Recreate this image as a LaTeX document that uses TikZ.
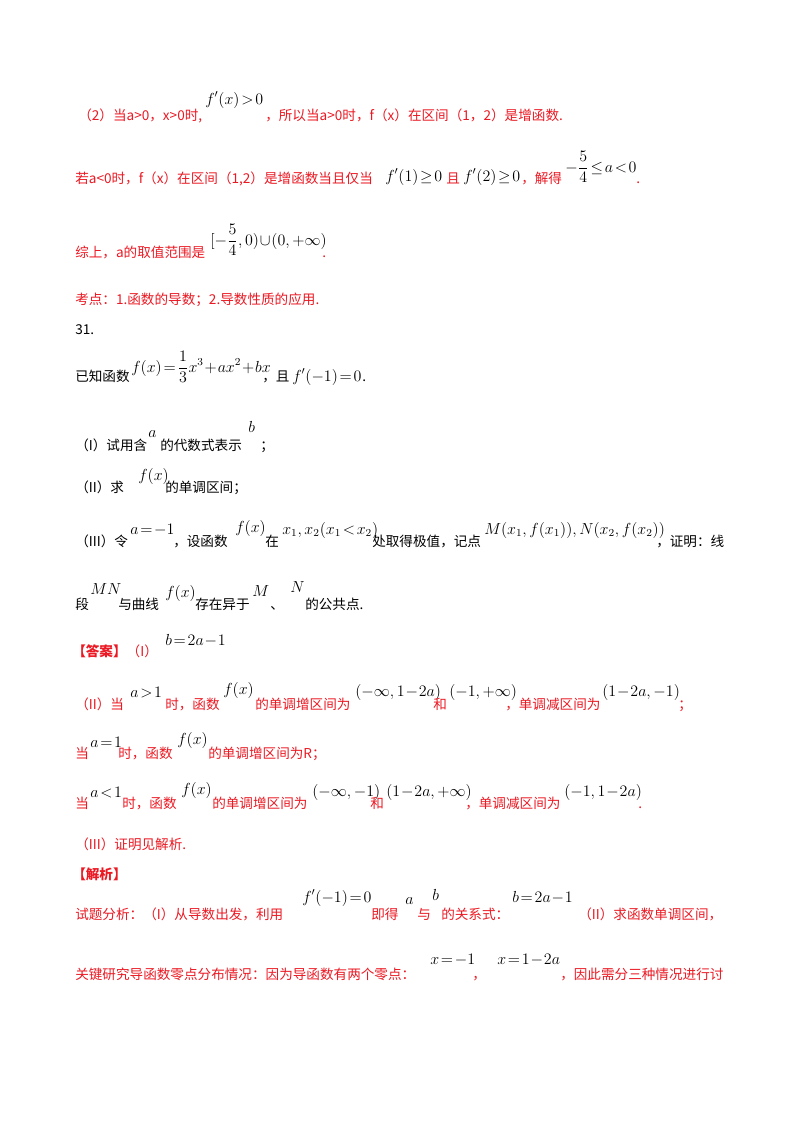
\documentclass[tikz,border=0pt]{standalone}
\usepackage{fontspec}
\setmainfont{Liberation Serif}
\newfontfamily\cjk{Noto Sans CJK SC}
\definecolor{rd}{RGB}{235,25,35}
\newcommand{\T}[5]{\node[txt,text=#4] (#1) at (#2,#3) {\cjk #5};}
\newcommand{\M}[5]{\node[txt,text=#4] (#1) at (#2,#3) {\fontsize{11.5pt}{13pt}\selectfont\thickmuskip=2mu\medmuskip=1mu$\displaystyle #5$};}
\begin{document}
\begin{tikzpicture}[x=0.75pt,y=-0.75pt,txt/.style={anchor=base west,inner sep=0pt,font=\fontsize{10.2pt}{12pt}\selectfont}]
\useasboundingbox[fill=white] (0,0) rectangle (800,1132);
% line 1
\T{a1}{78}{120}{rd}{（2）当a>0，x>0时,}
\M{a2}{205}{104}{black}{f'(x)>0}
\T{a3}{265}{120}{rd}{，所以当a>0时，f（x）在区间（1，2）是增函数.}
% line 2
\T{b1}{75}{183}{rd}{若a<0时，f（x）在区间（1,2）是增函数当且仅当}
\M{b2}{385}{181}{black}{f'(1)\ge0}
\T{b3}{446}{183}{rd}{且}
\M{b4}{463}{181}{black}{f'(2)\ge0}
\T{b5}{521}{183}{rd}{，解得}
\M{b6}{565}{172}{black}{-\frac54\le a<0}
\T{b7}{636}{183}{rd}{.}
% line 3
\T{c1}{75}{257}{rd}{综上，a的取值范围是}
\M{c2}{210}{245}{black}{[-\frac54,0)\cup(0,+\infty)}
\T{c3}{322}{257}{rd}{.}
\T{d1}{75}{304}{rd}{考点：1.函数的导数；2.导数性质的应用.}
\T{e1}{75}{334}{black}{31.}
% problem
\T{f1}{75}{381}{black}{已知函数}
\M{f2}{131}{372}{black}{f(x)=\frac13x^3+ax^2+bx}
\T{f3}{262}{381}{black}{，且}
\M{f4}{292}{381}{black}{f'(-1)=0}
\T{f5}{362}{381}{black}{.}
\T{g1}{75}{450}{black}{（I）试用含}
\M{g2}{148}{437}{black}{a}
\T{g3}{160}{450}{black}{的代数式表示}
\M{g4}{248}{432}{black}{b}
\T{g5}{260}{450}{black}{；}
\T{h1}{75}{492}{black}{（II）求}
\M{h2}{138}{480}{black}{f(x)}
\T{h3}{165}{492}{black}{的单调区间；}
\T{i1}{75}{546}{black}{（III）令}
\M{i2}{130}{534}{black}{a=-1}
\T{i3}{173}{546}{black}{，设函数}
\M{i4}{235}{532}{black}{f(x)}
\T{i5}{265}{546}{black}{在}
\M{i6}{282}{534}{black}{x_1,x_2(x_1<x_2)}
\T{i7}{372}{546}{black}{处取得极值，记点}
\M{i8}{484}{534}{black}{M(x_1,f(x_1)),N(x_2,f(x_2))}
\T{i9}{656}{546}{black}{，证明：线}
\T{j1}{75}{609}{black}{段}
\M{j2}{90}{594}{black}{MN}
\T{j3}{118}{609}{black}{与曲线}
\M{j4}{165}{597}{black}{f(x)}
\T{j5}{195}{609}{black}{存在异于}
\M{j6}{252}{596}{black}{M}
\T{j7}{270}{609}{black}{、}
\M{j8}{290}{592}{black}{N}
\T{j9}{305}{609}{black}{的公共点.}
% answer
\T{k1}{72}{656}{rd}{\textbf{【答案】}（I）}
\M{k2}{165}{645}{black}{b=2a-1}
\T{l1}{75}{709}{rd}{（II）当}
\M{l2}{130}{697}{black}{a>1}
\T{l3}{165}{709}{rd}{时，函数}
\M{l4}{223}{694}{black}{f(x)}
\T{l5}{255}{709}{rd}{的单调增区间为}
\M{l6}{355}{696}{black}{(-\infty,1-2a)}
\T{l7}{433}{709}{rd}{和}
\M{l8}{449}{696}{black}{(-1,+\infty)}
\T{l9}{505}{709}{rd}{，单调减区间为}
\M{l10}{602}{696}{black}{(1-2a,-1)}
\T{l11}{678}{709}{rd}{；}
\T{m1}{75}{758}{rd}{当}
\M{m2}{90}{747}{black}{a=1}
\T{m3}{118}{758}{rd}{时，函数}
\M{m4}{177}{744}{black}{f(x)}
\T{m5}{208}{758}{rd}{的单调增区间为R；}
\T{n1}{75}{808}{rd}{当}
\M{n2}{90}{797}{black}{a<1}
\T{n3}{122}{808}{rd}{时，函数}
\M{n4}{181}{794}{black}{f(x)}
\T{n5}{212}{808}{rd}{的单调增区间为}
\M{n6}{312}{796}{black}{(-\infty,-1)}
\T{n7}{370}{808}{rd}{和}
\M{n8}{386}{796}{black}{(1-2a,+\infty)}
\T{n9}{465}{808}{rd}{，单调减区间为}
\M{n10}{564}{796}{black}{(-1,1-2a)}
\T{n11}{638}{808}{rd}{.}
\T{o1}{75}{849}{rd}{（III）证明见解析.}
\T{p1}{72}{879}{rd}{\textbf{【解析】}}
\T{q1}{75}{919}{rd}{试题分析：（I）从导数出发，利用}
\M{q2}{302}{902}{black}{f'(-1)=0}
\T{q3}{371}{919}{rd}{即得}
\M{q4}{405}{904}{black}{a}
\T{q5}{417}{919}{rd}{与}
\M{q6}{432}{900}{black}{b}
\T{q7}{441}{919}{rd}{的关系式：}
\M{q8}{512}{902}{black}{b=2a-1}
\T{q9}{578}{919}{rd}{（II）求函数单调区间，}
\T{r1}{75}{979}{rd}{关键研究导函数零点分布情况：因为导函数有两个零点：}
\M{r2}{430}{964}{black}{x=-1}
\T{r3}{472}{979}{rd}{，}
\M{r4}{497}{964}{black}{x=1-2a}
\T{r5}{560}{979}{rd}{，因此需分三种情况进行讨}
\end{tikzpicture}
\end{document}
